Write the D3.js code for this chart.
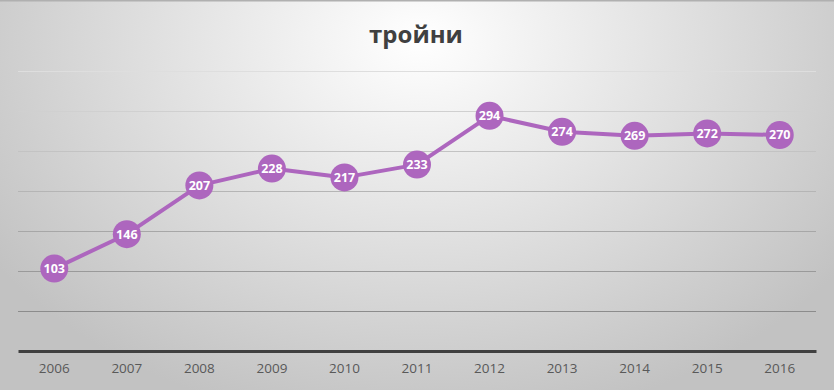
<!DOCTYPE html>
<html>
<head>
<meta charset="utf-8">
<script src="https://cdn.jsdelivr.net/npm/d3@7"></script>
<style>
  body { margin: 0; padding: 0; }
  svg { display: block; }
</style>
</head>
<body>
<script>
var years = ["2006", "2007", "2008", "2009", "2010", "2011", "2012", "2013", "2014", "2015", "2016"];
var values = [103, 146, 207, 228, 217, 233, 294, 274, 269, 272, 270];
var grid_ticks = [50, 100, 150, 200, 250, 300, 350];
var title = "тройни";

var width = 834;
var height = 390;

var svg = d3.select('body').append('svg')
      .attr('width', width)
      .attr('height', height);

var defs = svg.append('defs');
var grad = defs.append('radialGradient')
      .attr('id', 'bg')
      .attr('gradientUnits', 'userSpaceOnUse')
      .attr('cx', 420).attr('cy', 40)
      .attr('r', 520)
      .attr('gradientTransform', 'translate(420,40) scale(1,0.75) translate(-420,-40)');
grad.append('stop').attr('offset', '0%').attr('stop-color', '#ffffff');
grad.append('stop').attr('offset', '100%').attr('stop-color', '#c2c2c2');

svg.append('rect')
   .attr('width', width)
   .attr('height', height)
   .attr('fill', 'url(#bg)');

svg.append('line')
   .attr('x1', 0).attr('x2', width)
   .attr('y1', 0.5).attr('y2', 0.5)
   .attr('stroke', '#b0b0b0')
   .attr('stroke-width', 2);

var x = d3.scaleBand()
      .domain(years)
      .range([18, 816]);

var y = d3.scaleLinear()
      .domain([0, 350])
      .range([351, 71]);

// gridlines, lighter toward the top
var gridColor = d3.scaleLinear()
      .domain([50, 350])
      .range(['#8c8c8c', '#dedede']);

svg.append('g').selectAll('line')
   .data(grid_ticks)
   .enter()
   .append('line')
   .attr('x1', 18).attr('x2', 816)
   .attr('y1', function (d) { return Math.round(y(d)) + 0.5; })
   .attr('y2', function (d) { return Math.round(y(d)) + 0.5; })
   .attr('stroke', function (d) { return gridColor(d); })
   .attr('stroke-width', 1);

// base axis
var xAxis = d3.axisBottom(x).tickSize(0).tickPadding(12);
var ax = svg.append('g')
      .attr('transform', 'translate(0,' + y(0) + ')')
      .call(xAxis);
ax.select('.domain')
  .attr('stroke', '#404040')
  .attr('stroke-width', 3);
ax.selectAll('text')
  .attr('fill', '#595959')
  .style('font-family', 'Open Sans, sans-serif')
  .style('font-size', '13.5px');

// title
svg.append('text')
   .attr('x', 416)
   .attr('y', 43)
   .attr('text-anchor', 'middle')
   .attr('fill', '#404040')
   .style('font-family', 'Open Sans, sans-serif')
   .style('font-weight', 'bold')
   .style('font-size', '24px')
   .text(title);

var cx = function (d, i) { return x(years[i]) + x.bandwidth() / 2; };

var line = d3.line()
      .x(function (d, i) { return cx(d, i); })
      .y(function (d) { return y(d); });

svg.append('path')
   .datum(values)
   .attr('d', line)
   .attr('fill', 'none')
   .attr('stroke', '#ad66be')
   .attr('stroke-width', 4)
   .attr('stroke-linejoin', 'round');

var pts = svg.append('g').selectAll('g')
      .data(values)
      .enter()
      .append('g')
      .attr('transform', function (d, i) {
        return 'translate(' + cx(d, i) + ',' + y(d) + ')';
      });

pts.append('circle')
   .attr('r', 14)
   .attr('fill', '#ad66be');

pts.append('text')
   .attr('text-anchor', 'middle')
   .attr('dy', '0.35em')
   .attr('fill', '#ffffff')
   .style('font-family', 'Open Sans, sans-serif')
   .style('font-weight', 'bold')
   .style('font-size', '12.5px')
   .text(function (d) { return d; });
</script>
</body>
</html>
